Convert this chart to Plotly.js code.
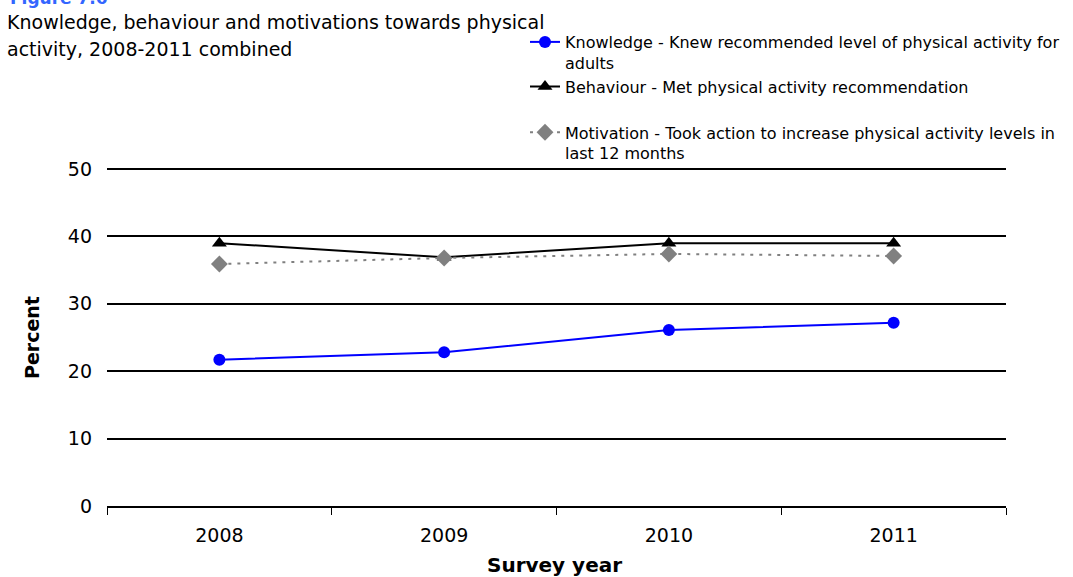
<!DOCTYPE html>
<html>
<head>
<meta charset="utf-8">
<script src="https://cdn.plot.ly/plotly-3.0.1.min.js"></script>
<style>
  html, body { margin: 0; padding: 0; background: #fff; }
  #chart { width: 1073px; height: 577px; }
</style>
</head>
<body>
<div id="chart"></div>
<script>
// Survey years (categories on the x axis)
const years = ['2008', '2009', '2010', '2011'];

// Percent of adults, by indicator
const knowledge = [21.7, 22.8, 26.1, 27.2];
const behaviour = [39.0, 36.9, 39.0, 39.0];
const motivation = [35.9, 36.8, 37.4, 37.1];

// Legend labels
const knowledgeName = 'Knowledge - Knew recommended level of physical activity for<br>adults';
const behaviourName = 'Behaviour - Met physical activity recommendation';
const motivationName = 'Motivation - Took action to increase physical activity levels in<br>last 12 months';

// Y axis ticks
const yTicks = [0, 10, 20, 30, 40, 50];

const BASE_FONT = 'DejaVu Sans, Verdana, sans-serif';

// Plot area in pixels (used to place the paper-referenced texts)
const M = { l: 107, r: 67, t: 167, b: 71 };
const PW = 1073 - M.l - M.r;
const PH = 577 - M.t - M.b;
const px = x => (x - M.l) / PW;
const py = y => (577 - M.b - y) / PH;

const traces = [
  {
    x: years, y: knowledge, name: knowledgeName, type: 'scatter', mode: 'lines+markers',
    legendgroup: 'a',
    line: { color: '#0000ff', width: 2 },
    marker: { symbol: 'circle', size: 12, color: '#0000ff' }
  },
  {
    x: years, y: behaviour, name: behaviourName, type: 'scatter', mode: 'lines+markers',
    legendgroup: 'a',
    line: { color: '#000000', width: 2 },
    marker: { symbol: 'triangle-up', size: 13, color: '#000000' }
  },
  {
    x: years, y: motivation, name: motivationName, type: 'scatter', mode: 'lines+markers',
    legendgroup: 'b',
    line: { color: '#808080', width: 2, dash: '3px,6px' },
    marker: { symbol: 'diamond', size: 13, color: '#808080' }
  }
];

const layout = {
  width: 1073,
  height: 577,
  paper_bgcolor: '#ffffff',
  plot_bgcolor: '#ffffff',
  margin: { l: M.l, r: M.r, t: M.t, b: M.b, autoexpand: false },
  font: { family: BASE_FONT, color: '#000000' },
  annotations: [
    {
      text: '<b>Figure 7.6</b>', xref: 'paper', yref: 'paper',
      x: px(8), xanchor: 'left',
      y: py(10), yanchor: 'bottom',
      showarrow: false,
      font: { family: BASE_FONT, size: 17, color: '#3366ff' }
    },
    {
      text: 'Knowledge, behaviour and motivations towards physical',
      xref: 'paper', yref: 'paper',
      x: px(5), xanchor: 'left', align: 'left',
      y: py(22), yanchor: 'middle',
      showarrow: false,
      font: { family: BASE_FONT, size: 19, color: '#000000' }
    },
    {
      text: 'activity, 2008-2011 combined',
      xref: 'paper', yref: 'paper',
      x: px(5), xanchor: 'left', align: 'left',
      y: py(49), yanchor: 'middle',
      showarrow: false,
      font: { family: BASE_FONT, size: 19, color: '#000000' }
    },
    {
      text: '<b>Survey year</b>', xref: 'paper', yref: 'paper',
      x: px(554), xanchor: 'center',
      y: py(565), yanchor: 'middle',
      showarrow: false,
      font: { family: BASE_FONT, size: 20, color: '#000000' }
    },
    {
      text: '<b>Percent</b>', xref: 'paper', yref: 'paper',
      x: px(32), xanchor: 'center',
      y: py(338), yanchor: 'middle',
      textangle: -90,
      showarrow: false,
      font: { family: BASE_FONT, size: 19, color: '#000000' }
    }
  ],
  xaxis: {
    type: 'category',
    range: [-0.5, 3.5],
    tickson: 'boundaries',
    ticks: 'outside',
    ticklen: 7,
    tickwidth: 1,
    tickcolor: '#000000',
    showline: true,
    linecolor: '#000000',
    linewidth: 2,
    showgrid: false,
    zeroline: false,
    automargin: false,
    tickangle: 0,
    ticklabelstandoff: 11,
    tickfont: { family: BASE_FONT, size: 19, color: '#000000' }
  },
  yaxis: {
    range: [0, 50.3],
    tickvals: yTicks,
    ticks: '',
    showline: false,
    showgrid: true,
    gridcolor: '#000000',
    gridwidth: 2,
    zeroline: true,
    zerolinecolor: '#000000',
    zerolinewidth: 2,
    automargin: false,
    ticklabelstandoff: 14,
    tickfont: { family: BASE_FONT, size: 19, color: '#000000' }
  },
  showlegend: true,
  legend: {
    xref: 'container', yref: 'container',
    x: 525 / 1073, xanchor: 'left',
    y: 1 - 25 / 577, yanchor: 'top',
    bgcolor: 'rgba(0,0,0,0)',
    valign: 'top',
    tracegroupgap: 22,
    font: { family: BASE_FONT, size: 16, color: '#000000' }
  }
};

Plotly.newPlot('chart', traces, layout, { displayModeBar: false, staticPlot: true });
</script>
</body>
</html>
